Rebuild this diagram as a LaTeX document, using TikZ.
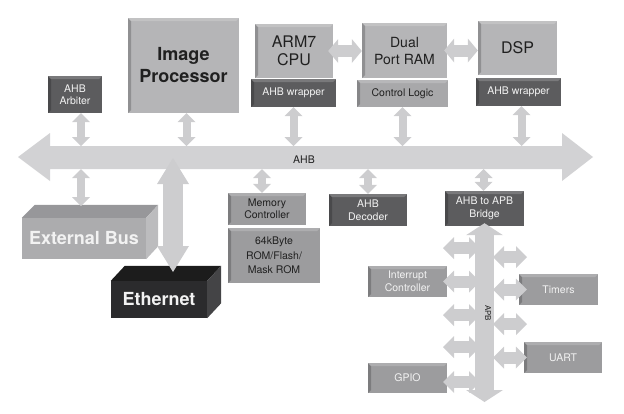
\documentclass[tikz,border=0pt]{standalone}
\usepackage{fontspec}
\setmainfont{TeX Gyre Heros}
\usetikzlibrary{arrows.meta}
\definecolor{busgray}{HTML}{D2D2D4}
\definecolor{arrowgray}{HTML}{CDCDCF}
\definecolor{lightbox}{HTML}{B5B5B7}
\definecolor{ctrlgray}{HTML}{A8A8AA}
\definecolor{midbox}{HTML}{9C9C9E}
\definecolor{darkbox}{HTML}{5C5C5E}
\definecolor{extfront}{HTML}{ACACAE}
\definecolor{exttop}{HTML}{97979A}
\definecolor{extside}{HTML}{BCBCBE}
\definecolor{ethfront}{HTML}{2B2B2D}
\definecolor{ethtop}{HTML}{1C1C1C}
\definecolor{ethside}{HTML}{444446}
\definecolor{txtdark}{HTML}{202020}
\definecolor{txtlight}{HTML}{F2F2F2}
\begin{document}
\begin{tikzpicture}[x=1pt,y=-1pt,
  bevel/.style={path picture={
    \fill[black,opacity=.2] (path picture bounding box.north west) -- (path picture bounding box.south west)
      -- ([shift={(3pt,3pt)}]path picture bounding box.south west) -- ([shift={(3pt,-3pt)}]path picture bounding box.north west) -- cycle;
    \fill[white,opacity=.18] (path picture bounding box.north west) -- (path picture bounding box.north east)
      -- ([shift={(-3pt,-3pt)}]path picture bounding box.north east) -- ([shift={(3pt,-3pt)}]path picture bounding box.north west) -- cycle;}},
  box/.style={draw=none, inner sep=0pt, align=center, bevel,
    font=\fontsize{10.5}{12.5}\selectfont, text=txtdark},
  lbox/.style={box, fill=lightbox},
  mbox/.style={box, fill=midbox},
  dbox/.style={box, fill=darkbox, text=txtlight},
  wbox/.style={box, fill=midbox, text=txtlight},
  vconn/.style={draw=arrowgray, line width=8pt,
    {Triangle[length=9pt,width=18pt,line width=0pt]}-{Triangle[length=9pt,width=18pt,line width=0pt]}},
  hconn/.style={draw=arrowgray, line width=12pt,
    {Triangle[length=10pt,width=24pt,line width=0pt]}-{Triangle[length=10pt,width=24pt,line width=0pt]}},
  sconn/.style={draw=arrowgray, line width=12pt,
    {Triangle[length=11pt,width=22pt,line width=0pt]}-{Triangle[length=11pt,width=22pt,line width=0pt]}},
  ethconn/.style={draw=arrowgray, line width=20pt,
    {Triangle[length=26pt,width=32pt,line width=0pt]}-{Triangle[length=26pt,width=32pt,line width=0pt]}},
  apbconn/.style={draw=arrowgray, line width=19pt,
    {Triangle[length=12pt,width=37pt,line width=0pt]}-{Triangle[length=12pt,width=37pt,line width=0pt]}},
  big/.style={inner sep=0pt, align=center, text=txtlight, font=\bfseries\fontsize{18}{20}\selectfont}
]
\useasboundingbox (0,0) rectangle (624,413);

% AHB bus
\fill[busgray] (18,157) -- (50,133) -- (50,146) -- (562,146) -- (562,133) -- (593,157)
  -- (562,181) -- (562,169) -- (50,169) -- (50,181) -- cycle;
\node[font=\fontsize{10.5}{12}\selectfont, text=txtdark] (ahblbl) at (304,160) {AHB};
\coordinate (busT) at (0,146);
\coordinate (busB) at (0,169);

% upper boxes
\node[lbox, minimum width=111pt, minimum height=95pt, font=\bfseries\fontsize{18}{22}\selectfont] (imgp) at (183.5,65.5) {Image\\Processor};
\node[lbox, minimum width=78pt, minimum height=54pt, font=\fontsize{16}{18}\selectfont] (arm) at (294,51) {ARM7\\CPU};
\node[dbox, minimum width=85pt, minimum height=28pt] (armw) at (293.5,93) {AHB wrapper};
\node[lbox, minimum width=85pt, minimum height=55pt, font=\fontsize{14}{17}\selectfont] (dpram) at (404.5,50.5) {Dual\\Port RAM};
\node[box, fill=ctrlgray, minimum width=91pt, minimum height=27pt] (ctrl) at (402.5,93.5) {Control Logic};
\node[lbox, minimum width=79pt, minimum height=54pt, font=\fontsize{16}{18}\selectfont] (dsp) at (517.5,48) {DSP};
\node[dbox, minimum width=85pt, minimum height=28pt] (dspw) at (518.5,92) {AHB wrapper};
\node[dbox, minimum width=54pt, minimum height=37pt] (arb) at (75,94.5) {AHB\\Arbiter};

% lower boxes
\node[mbox, minimum width=78pt, minimum height=32pt] (memc) at (267,209) {Memory\\Controller};
\node[mbox, minimum width=92pt, minimum height=55pt, font=\fontsize{10.5}{14.5}\selectfont] (rom) at (274,255.5) {64kByte\\ROM/Flash/\\Mask ROM};
\node[dbox, minimum width=78pt, minimum height=32pt] (dec) at (368,210) {AHB\\Decoder};
\node[dbox, minimum width=79pt, minimum height=35pt] (brg) at (484.5,208.5) {AHB to APB\\Bridge};
\node[wbox, minimum width=79pt, minimum height=31pt] (intc) at (407.5,281.5) {Interrupt\\Controller};
\node[wbox, minimum width=79pt, minimum height=30pt] (gpio) at (407.5,378) {GPIO};
\node[wbox, minimum width=79pt, minimum height=31pt] (tim) at (558.5,289.5) {Timers};
\node[wbox, minimum width=78pt, minimum height=31pt] (uart) at (563,357.5) {UART};

% External bus (3D)
\node[big, fill=extfront, minimum width=124pt, minimum height=41pt] (ext) at (84,238.5) {External Bus};
\fill[exttop] (ext.north west) -- ++(13pt,13pt) -- ([shift={(12pt,13pt)}]ext.north east) -- (ext.north east) -- cycle;
\fill[extside] (ext.north east) -- ++(12pt,13pt) -- ([shift={(12pt,13pt)}]ext.south east) -- (ext.south east) -- cycle;
\coordinate (extT) at (0,206);

% Ethernet (3D)
\node[big, fill=ethfront, minimum width=96pt, minimum height=37pt] (eth) at (159,299.5) {Ethernet};
\fill[ethtop] (eth.north west) -- ++(14pt,15pt) -- ([shift={(14pt,15pt)}]eth.north east) -- (eth.north east) -- cycle;
\fill[ethside] (eth.north east) -- ++(14pt,15pt) -- ([shift={(14pt,15pt)}]eth.south east) -- (eth.south east) -- cycle;
\coordinate (ethB) at (173,158);
\coordinate (ethT) at (173,272);

% AHB connectors
\draw[vconn] ([xshift=6pt]arb.south) -- ([xshift=6pt]arb.south |- busT);
\draw[vconn] ([xshift=3pt]imgp.south) -- ([xshift=3pt]imgp.south |- busT);
\draw[vconn] (armw.south) -- (armw.south |- busT);
\draw[vconn] (ctrl.south) -- (ctrl.south |- busT);
\draw[vconn] ([xshift=3pt]dspw.south) -- ([xshift=3pt]dspw.south |- busT);
\draw[vconn] ([xshift=6pt]arb.south |- busB) -- ([xshift=6pt]arb.south |- extT);
\draw[vconn] ([xshift=-5pt]memc.north |- busB) -- ([xshift=-5pt]memc.north);
\draw[vconn] (dec.north |- busB) -- (dec.north);
\draw[vconn] ([xshift=-1pt]brg.north |- busB) -- ([xshift=-1pt]brg.north);
\draw[ethconn] (ethB) -- (ethT);

% point-to-point
\draw[hconn] ([xshift=-5pt]arm.east) -- (arm.east -| dpram.west);
\draw[hconn] ([xshift=-3pt]dpram.east) -- (dpram.east -| dsp.west);

% APB bus
\coordinate (apbE) at (484.5,402);
\draw[apbconn] ([yshift=3pt]brg.south) -- (apbE);
\node[rotate=-90, font=\fontsize{8}{9}\selectfont, text=txtdark] (apblbl) at (488,313) {APB};
\coordinate (apbL) at (480,0);
\coordinate (apbR) at (493,0);
\coordinate (l1) at (443,248);
\coordinate (l3) at (443,315);
\coordinate (l4) at (443,347);
\coordinate (r1) at (527,257);
\coordinate (r3) at (527,324);
\draw[sconn] (l1) -- (l1 -| apbL);
\draw[sconn] ([xshift=-4pt]intc.east) -- (intc.east -| apbL);
\draw[sconn] (l3) -- (l3 -| apbL);
\draw[sconn] (l4) -- (l4 -| apbL);
\draw[sconn] ([xshift=-4pt,yshift=-4pt]gpio.east) -- ([yshift=-4pt]gpio.east -| apbL);
\draw[sconn] (apbR |- r1) -- (r1);
\draw[sconn] (apbR |- tim.west) -- ([xshift=8pt]tim.west);
\draw[sconn] (apbR |- r3) -- (r3);
\draw[sconn] (apbR |- uart.west) -- ([xshift=3pt]uart.west);
\end{tikzpicture}
\end{document}
